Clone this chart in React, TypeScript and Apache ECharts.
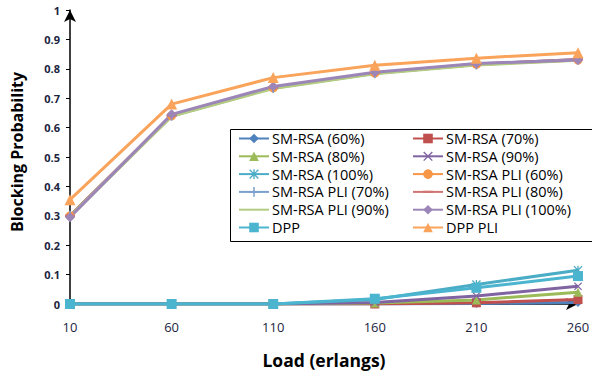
import React, { useEffect, useRef } from "react";
import * as echarts from "echarts";

const categories = ["10", "60", "110", "160", "210", "260"];

const smRsa60 = [0, 0, 0, 0, 0.002, 0.005];
const smRsa70 = [0, 0, 0, 0, 0.004, 0.015];
const smRsa80 = [0, 0, 0, 0.003, 0.014, 0.04];
const smRsa90 = [0, 0, 0, 0.005, 0.027, 0.06];
const smRsa100 = [0, 0, 0, 0.015, 0.066, 0.115];
const pli60 = [0.3, 0.64, 0.735, 0.785, 0.815, 0.83];
const pli70 = [0.3, 0.64, 0.735, 0.785, 0.815, 0.832];
const pli80 = [0.3, 0.641, 0.736, 0.786, 0.816, 0.832];
const pli90 = [0.298, 0.638, 0.733, 0.783, 0.813, 0.829];
const pli100 = [0.295, 0.645, 0.74, 0.788, 0.818, 0.83];
const dpp = [0, 0, 0, 0.018, 0.055, 0.095];
const dppPli = [0.355, 0.68, 0.77, 0.812, 0.836, 0.855];

const X_SYM = "path://M0,1L1,0L5,4L9,0L10,1L6,5L10,9L9,10L5,6L1,10L0,9L4,5Z";
const PLUS_SYM = "path://M4.2,0H5.8V4.2H10V5.8H5.8V10H4.2V5.8H0V4.2H4.2Z";
const AST_SYM =
  "path://M0,1L1,0L5,4L9,0L10,1L6,5L10,9L9,10L5,6L1,10L0,9L4,5Z M4.3,0H5.7V10H4.3Z";
const DASH_SYM = "path://M0,0L0.01,0L0.01,0.01Z M9.99,10L10,10L10,9.99Z M0,3.8H10V6.2H0Z";

const FONT = "'Open Sans', Lato, sans-serif";

export default function App() {
  const ref = useRef<HTMLDivElement>(null);
  useEffect(() => {
    if (!ref.current) return;
    const chart = echarts.init(ref.current, undefined, { renderer: "svg" });
    const mk = (
      name: string,
      data: number[],
      color: string,
      symbol: string,
      size: number,
      showSymbol = true
    ) => ({
      name,
      type: "line",
      data,
      symbol,
      symbolSize: size,
      showSymbol,
      lineStyle: { color, width: 3 },
      itemStyle: { color },
      z: 2,
    });
    const series = [
      mk("SM-RSA (60%)", smRsa60, "#4F81BD", "diamond", 9),
      mk("SM-RSA (70%)", smRsa70, "#C0504D", "rect", 9),
      mk("SM-RSA (80%)", smRsa80, "#9BBB59", "triangle", 9),
      mk("SM-RSA (90%)", smRsa90, "#8064A2", X_SYM, 8),
      mk("SM-RSA (100%)", smRsa100, "#4BACC6", AST_SYM, 9),
      mk("SM-RSA PLI (60%)", pli60, "#F79646", "circle", 9),
      mk("SM-RSA PLI (70%)", pli70, "#7BA0CD", PLUS_SYM, 10),
      mk("SM-RSA PLI (80%)", pli80, "#D07572", DASH_SYM, 10),
      mk("SM-RSA PLI (90%)", pli90, "#B2CC80", "none", 1, false),
      mk("SM-RSA PLI (100%)", pli100, "#9C86B8", "diamond", 10),
      mk("DPP", dpp, "#4BB4CF", "rect", 10),
      mk("DPP PLI", dppPli, "#F9A35B", "triangle", 11),
    ];
    const leftNames: any[] = [
      "SM-RSA (60%)",
      "SM-RSA (80%)",
      "SM-RSA (100%)",
      "SM-RSA PLI (70%)",
      { name: "SM-RSA PLI (90%)", itemStyle: { opacity: 0 } },
      "DPP",
    ];
    const rightNames = [
      "SM-RSA (70%)",
      "SM-RSA (90%)",
      "SM-RSA PLI (60%)",
      "SM-RSA PLI (80%)",
      "SM-RSA PLI (100%)",
      "DPP PLI",
    ];
    const legendBase = {
      orient: "vertical",
      top: 131,
      itemWidth: 30,
      itemHeight: 12,
      itemGap: 2.8,
      padding: 0,
      textStyle: { fontFamily: FONT, fontSize: 14.5, color: "#000", padding: [0, 0, 0, -2] },
    };
    chart.setOption({
      animation: false,
      textStyle: { fontFamily: FONT },
      grid: {
        left: 70,
        right: 14,
        top: 10,
        bottom: 71,
        containLabel: false,
        outerBoundsMode: "none",
      },
      legend: [
        { ...legendBase, left: 238, data: leftNames },
        { ...legendBase, left: 412, data: rightNames },
      ],
      graphic: [
        {
          type: "rect",
          left: 228,
          top: 127,
          shape: { width: 362, height: 112 },
          style: { fill: "none", stroke: "#000", lineWidth: 1 },
          z: 1,
        },
      ],
      xAxis: {
        type: "category",
        data: categories,
        boundaryGap: false,
        name: "Load (erlangs)",
        nameLocation: "middle",
        nameGap: 47,
        nameTextStyle: { fontFamily: FONT, fontSize: 17.5, fontWeight: "bold", color: "#000" },
        axisLine: {
          lineStyle: { color: "#000", width: 1.5 },
          symbol: ["none", "arrow"],
          symbolSize: [9, 12],
        },
        axisTick: { show: false },
        axisLabel: { fontFamily: FONT, fontSize: 13, color: "#1c2440", margin: 16 },
        splitLine: { show: false },
      },
      yAxis: {
        type: "value",
        min: 0,
        max: 1,
        interval: 0.1,
        name: "Blocking Probability",
        nameLocation: "middle",
        nameGap: 45,
        nameTextStyle: {
          fontFamily: FONT,
          fontSize: 16,
          fontWeight: "bold",
          color: "#000",
          padding: [0, 0, 0, 10],
        },
        axisLine: {
          show: true,
          lineStyle: { color: "#000", width: 1.5 },
          symbol: ["none", "arrow"],
          symbolSize: [9, 12],
        },
        axisTick: { show: true, length: 4, lineStyle: { color: "#000" } },
        axisLabel: {
          fontFamily: FONT,
          fontSize: 11,
          fontWeight: "bold",
          color: "#1c2440",
          margin: 10,
          formatter: (v: number) => String(Math.round(v * 10) / 10),
        },
        splitLine: { show: false },
      },
      series,
    });
    return () => chart.dispose();
  }, []);
  return <div ref={ref} style={{ width: 592, height: 375, position: "absolute", left: 0, top: 0, background: "#fff" }} />;
}
